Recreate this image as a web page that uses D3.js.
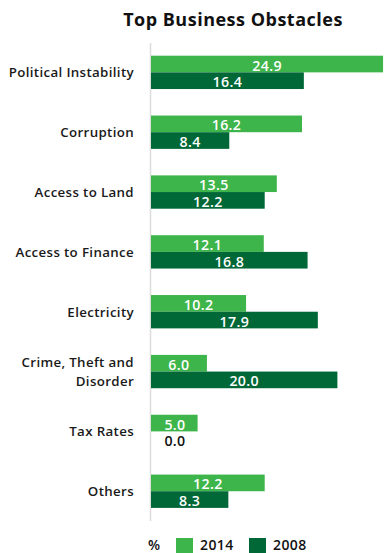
<!DOCTYPE html>
<html>
<head>
<meta charset="utf-8">
<script src="https://cdn.jsdelivr.net/npm/d3@7"></script>
<style>
  html, body { margin: 0; padding: 0; background: #fff; }
  svg { display: block; font-family: "Open Sans", "Noto Sans", sans-serif; }
</style>
</head>
<body>
<svg id="chart" width="384" height="553"></svg>
<script>
// Categories (each entry may hold several lines) and survey shares in percent
const categories = [
  ["Political Instability"],
  ["Corruption"],
  ["Access to Land"],
  ["Access to Finance"],
  ["Electricity"],
  ["Crime, Theft and", "Disorder"],
  ["Tax Rates"],
  ["Others"]
];
const series = ["2014", "2008"];
const values2014 = [24.9, 16.2, 13.5, 12.1, 10.2, 6.0, 5.0, 12.2];
const values2008 = [16.4, 8.4, 12.2, 16.8, 17.9, 20.0, 0.0, 8.3];
const title = "Top Business Obstacles";
const unitLabel = "%";

const colors = { "2014": "#3db54a", "2008": "#006837" };

const svg = d3.select("#chart");
const keys = categories.map(c => c.join(" "));
const rows = keys.map((k, i) => ({ key: k, lines: categories[i], "2014": values2014[i], "2008": values2008[i] }));

const x = d3.scaleLinear().domain([0, 25]).range([151, 384]);
const y = d3.scaleBand().domain(keys).range([55.7, 507.9]).paddingInner(0.443).paddingOuter(0);
const ySub = d3.scaleBand().domain(series).range([0, y.bandwidth()]);

// Title
svg.append("text")
  .attr("x", 233).attr("y", 26)
  .attr("text-anchor", "middle")
  .attr("font-size", 18).attr("font-weight", 700).attr("fill", "#111")
  .attr("letter-spacing", 0.5)
  .text(title);

// Baseline
svg.append("line")
  .attr("x1", x(0) - 0.5).attr("x2", x(0) - 0.5)
  .attr("y1", 43).attr("y2", 521)
  .attr("stroke", "#dcdcdc").attr("stroke-width", 1.5);

const groups = svg.selectAll("g.row").data(rows).join("g")
  .attr("class", "row")
  .attr("transform", d => `translate(0,${y(d.key)})`);

// Category labels
groups.append("text")
  .attr("x", 134)
  .attr("text-anchor", "end")
  .attr("font-size", 13.3).attr("font-weight", 600).attr("fill", "#1a1a1a")
  .attr("letter-spacing", 0.35)
  .attr("dominant-baseline", "central")
  .selectAll("tspan").data(d => d.lines.map((l, i) => ({ l, i, n: d.lines.length }))).join("tspan")
  .attr("x", 134)
  .attr("y", t => y.bandwidth() / 2 + (t.i - (t.n - 1) / 2) * 19.5)
  .text(t => t.l);

// Bars
groups.selectAll("rect").data(d => series.map(s => ({ s, v: d[s] }))).join("rect")
  .attr("x", x(0))
  .attr("y", d => ySub(d.s))
  .attr("width", d => x(d.v) - x(0))
  .attr("height", ySub.bandwidth())
  .attr("fill", d => colors[d.s]);

// Value labels
groups.selectAll("text.val").data(d => series.map(s => ({ s, v: d[s] }))).join("text")
  .attr("class", "val")
  .attr("x", d => Math.max((x(d.v) + x(0)) / 2, x(0) + 24))
  .attr("y", d => ySub(d.s) + ySub.bandwidth() / 2 + 1)
  .attr("text-anchor", "middle")
  .attr("dominant-baseline", "central")
  .attr("font-size", 14.2).attr("font-weight", 600)
  .attr("letter-spacing", 0.35)
  .attr("fill", d => d.v > 0 ? "#fff" : "#111")
  .text(d => d3.format(".1f")(d.v));

// Legend
const legend = svg.append("g");
legend.append("text")
  .attr("x", 148).attr("y", 550)
  .attr("font-size", 14).attr("font-weight", 600).attr("fill", "#111")
  .text(unitLabel);
const legendX = { "2014": 176, "2008": 249 };
series.forEach(s => {
  legend.append("rect")
    .attr("x", legendX[s]).attr("y", 538)
    .attr("width", 17).attr("height", 17)
    .attr("fill", colors[s]);
  legend.append("text")
    .attr("x", legendX[s] + 24).attr("y", 550)
    .attr("font-size", 14).attr("font-weight", 600).attr("fill", "#111")
    .attr("letter-spacing", 0.4)
    .text(s);
});
</script>
</body>
</html>
